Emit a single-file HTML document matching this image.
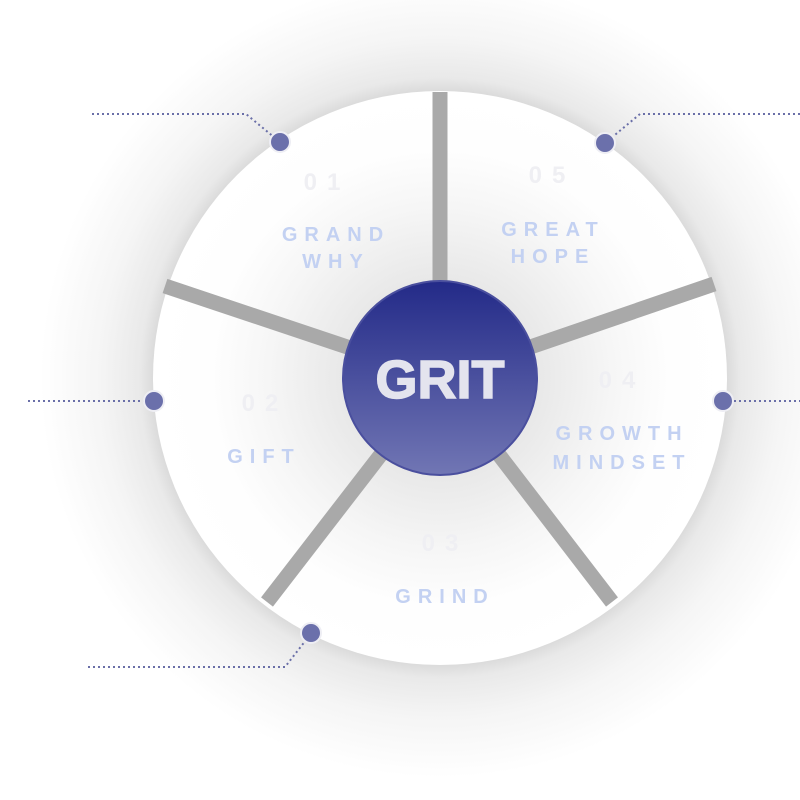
<!DOCTYPE html>
<html><head><style>
html,body{margin:0;padding:0;background:#fff;}
svg{display:block;}
text{font-family:"Liberation Sans",sans-serif;font-weight:bold;}
</style></head><body>
<svg width="800" height="800" viewBox="0 0 800 800">
<defs>
<radialGradient id="halo" cx="440" cy="378" r="400" gradientUnits="userSpaceOnUse">
<stop offset="0.715" stop-color="#dadada"/>
<stop offset="0.75" stop-color="#e9e9e9"/>
<stop offset="0.85" stop-color="#f5f5f5"/>
<stop offset="1" stop-color="#fff"/>
</radialGradient>
<radialGradient id="inner" cx="440" cy="378" r="287" gradientUnits="userSpaceOnUse">
<stop offset="0.3" stop-color="#e6e6e6"/>
<stop offset="0.6" stop-color="#f6f6f6"/>
<stop offset="0.8" stop-color="#fefefe"/>
<stop offset="1" stop-color="#fff"/>
</radialGradient>
<linearGradient id="core" x1="0" y1="0" x2="0" y2="1">
<stop offset="0" stop-color="#232a88"/>
<stop offset="1" stop-color="#7176b4"/>
</linearGradient>
</defs>
<rect width="800" height="800" fill="#fff"/>
<circle cx="440" cy="378" r="400" fill="url(#halo)"/>
<circle cx="440" cy="378" r="287" fill="url(#inner)"/>
<g stroke="#a9a9a9" stroke-width="15">
<line x1="440" y1="378" x2="440" y2="92"/>
<line x1="440" y1="378" x2="165" y2="286"/>
<line x1="440" y1="378" x2="714" y2="284"/>
<line x1="440" y1="378" x2="267" y2="602"/>
<line x1="440" y1="378" x2="612" y2="602"/>
</g>
<circle cx="440" cy="378" r="97" fill="url(#core)" stroke="#4a4f9e" stroke-width="2"/>
<text x="440" y="398" text-anchor="middle" font-size="54" fill="#e4e4ee" stroke="#e4e4ee" stroke-width="1.5">GRIT</text>
<g fill="#efeff3" font-size="24" text-anchor="middle" letter-spacing="10">
<text x="327" y="190">01</text>
<text x="552" y="183">05</text>
<text x="265" y="411">02</text>
<text x="622" y="388">04</text>
<text x="445" y="551">03</text>
</g>
<g fill="#c3d1f2" font-size="20" text-anchor="middle" letter-spacing="7">
<text x="336" y="241">GRAND</text>
<text x="336" y="268">WHY</text>
<text x="553" y="236">GREAT</text>
<text x="553" y="263">HOPE</text>
<text x="264" y="463">GIFT</text>
<text x="622" y="440">GROWTH</text>
<text x="622" y="469">MINDSET</text>
<text x="445" y="603">GRIND</text>
</g>
<g fill="none" stroke="#6a6fa8" stroke-width="2" stroke-dasharray="2 3">
<polyline points="92,114 246,114 275,138"/>
<polyline points="800,114 640,114 610,139"/>
<polyline points="28,401 148,401"/>
<polyline points="729,401 800,401"/>
<polyline points="88,667 285,667 306,640"/>
</g>
<g fill="#6b70ab" stroke="#eeeef4" stroke-width="2">
<circle cx="280" cy="142" r="10"/>
<circle cx="605" cy="143" r="10"/>
<circle cx="154" cy="401" r="10"/>
<circle cx="723" cy="401" r="10"/>
<circle cx="311" cy="633" r="10"/>
</g>
</svg>
</body></html>
